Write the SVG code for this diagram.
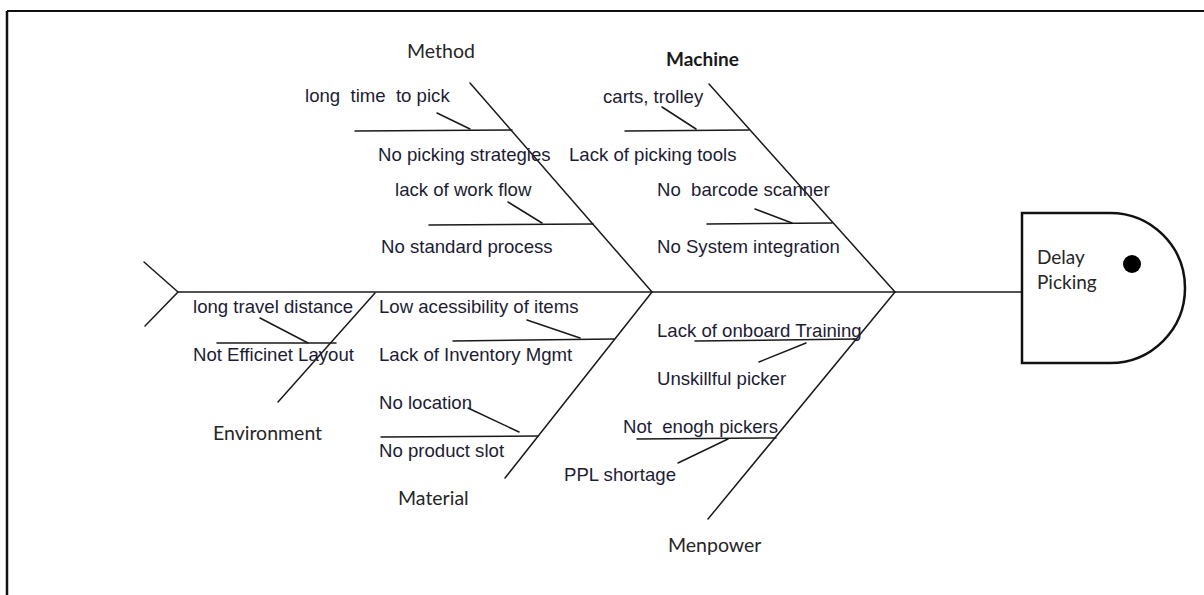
<svg xmlns="http://www.w3.org/2000/svg" width="1204" height="595" viewBox="0 0 1204 595">
<style>
.ln{stroke:#1a1a1a;stroke-width:1.5;fill:none;stroke-linecap:round}
.c{font-family:"Liberation Sans",Arial,sans-serif;font-size:18.6px;fill:#1c1c34;white-space:pre}
.h{font-family:Lato,"Open Sans",sans-serif;font-size:19.5px;fill:#262626}
.hb{font-family:Lato,"Open Sans",sans-serif;font-size:19px;font-weight:bold;fill:#1a1a1a}
.hd{font-family:Lato,"Open Sans",sans-serif;font-size:19px;fill:#262626}
</style>
<rect width="1204" height="595" fill="#fff"/>
<g id="border">
<line x1="7" y1="11" x2="1204" y2="11" stroke="#111" stroke-width="2"/>
<line x1="7" y1="11" x2="7" y2="595" stroke="#111" stroke-width="2.5"/>
</g>
<g id="connectors">
<line class="ln" x1="178" y1="292" x2="1022" y2="292"/>
<polyline class="ln" points="144,262 178,292 145,326"/>
<line class="ln" x1="470" y1="83" x2="652" y2="292"/>
<line class="ln" x1="355" y1="131" x2="512" y2="130"/>
<line class="ln" x1="437" y1="113" x2="470" y2="129"/>
<line class="ln" x1="429" y1="225" x2="593" y2="224"/>
<line class="ln" x1="508" y1="202" x2="542" y2="223"/>
<line class="ln" x1="709" y1="84" x2="895" y2="292"/>
<line class="ln" x1="625" y1="131" x2="749" y2="130"/>
<line class="ln" x1="662" y1="107" x2="696" y2="129"/>
<line class="ln" x1="707" y1="224" x2="832" y2="223"/>
<line class="ln" x1="755" y1="209" x2="792" y2="223"/>
<line class="ln" x1="375" y1="293" x2="278" y2="402"/>
<line class="ln" x1="217" y1="343" x2="336" y2="343"/>
<line class="ln" x1="260" y1="318" x2="308" y2="343"/>
<line class="ln" x1="652" y1="292" x2="505" y2="478"/>
<line class="ln" x1="453" y1="341" x2="614" y2="339"/>
<line class="ln" x1="527" y1="320" x2="580" y2="338"/>
<line class="ln" x1="381" y1="437" x2="538" y2="436"/>
<line class="ln" x1="468" y1="408" x2="519" y2="432"/>
<line class="ln" x1="895" y1="292" x2="708" y2="519"/>
<line class="ln" x1="695" y1="341" x2="856" y2="339"/>
<line class="ln" x1="806" y1="343" x2="759" y2="362"/>
<line class="ln" x1="637" y1="439" x2="776" y2="438"/>
<line class="ln" x1="728" y1="439" x2="678" y2="463"/>
</g>
<g id="method">
<text class="h" x="407" y="58">Method</text>
<text class="c" x="305" y="102" xml:space="preserve">long  time  to pick</text>
<text class="c" x="378" y="161">No picking strategies</text>
<text class="c" x="395" y="196">lack of work flow</text>
<text class="c" x="381" y="253">No standard process</text>
</g>
<g id="machine">
<text class="hb" x="666" y="66">Machine</text>
<text class="c" x="603" y="103">carts, trolley</text>
<text class="c" x="569" y="161">Lack of picking tools</text>
<text class="c" x="657" y="196" xml:space="preserve">No  barcode scanner</text>
<text class="c" x="657" y="253">No System integration</text>
</g>
<g id="environment">
<text class="c" x="193" y="313">long travel distance</text>
<text class="c" x="193" y="361">Not Efficinet Layout</text>
<text class="h" x="213" y="440">Environment</text>
</g>
<g id="material">
<text class="c" x="379" y="313">Low acessibility of items</text>
<text class="c" x="379" y="361">Lack of Inventory Mgmt</text>
<text class="c" x="379" y="409">No location</text>
<text class="c" x="379" y="457">No product slot</text>
<text class="h" x="398" y="505">Material</text>
</g>
<g id="menpower">
<text class="c" x="657" y="337">Lack of onboard Training</text>
<text class="c" x="657" y="385">Unskillful picker</text>
<text class="c" x="623" y="433" xml:space="preserve">Not  enogh pickers</text>
<text class="c" x="564" y="481">PPL shortage</text>
<text class="h" x="668" y="552">Menpower</text>
</g>
<g id="head">
<path d="M1022,213 H1110 A75,75 0 0 1 1110,363 H1022 Z" fill="#fff" stroke="#111" stroke-width="2.5"/>
<circle cx="1132" cy="264" r="9" fill="#000"/>
<text class="hd" x="1037" y="264">Delay</text>
<text class="hd" x="1037" y="289">Picking</text>
</g>
</svg>
